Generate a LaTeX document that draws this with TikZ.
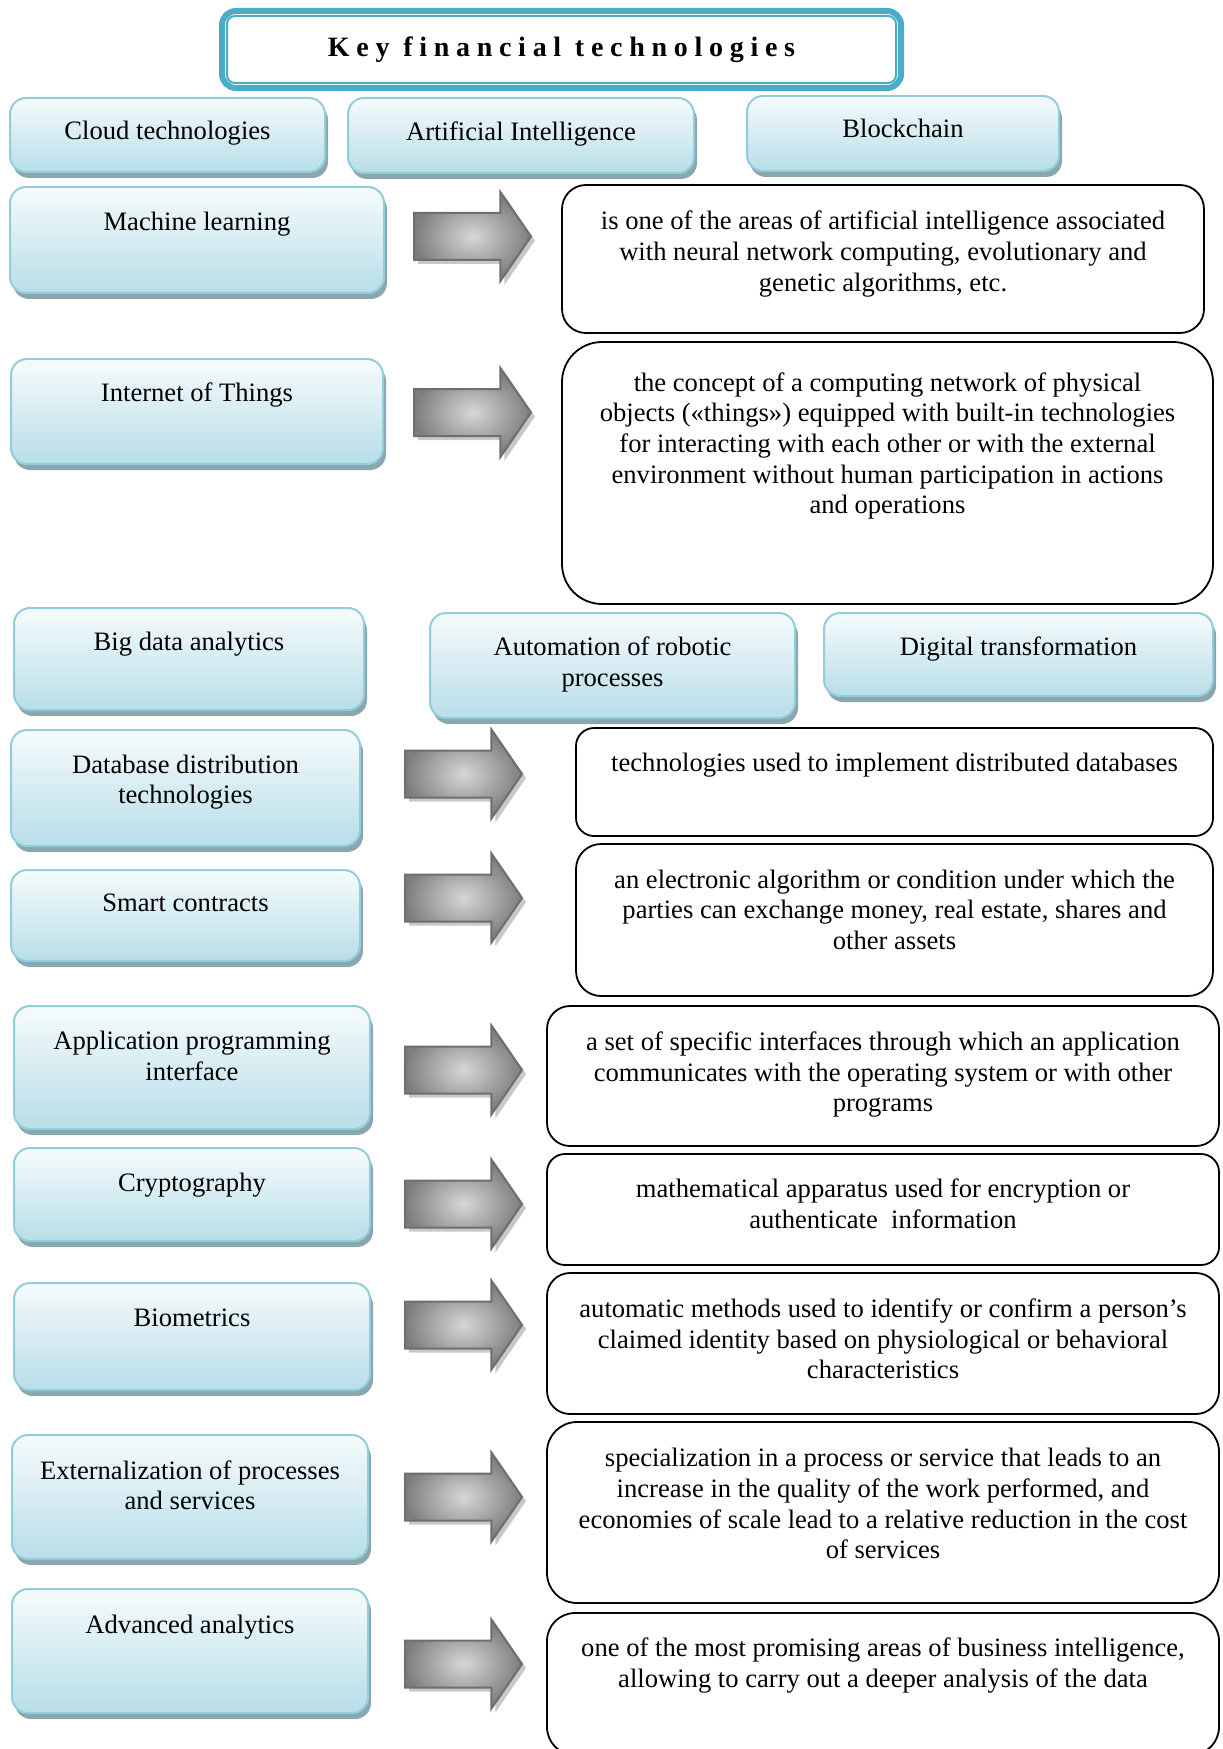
\documentclass[tikz,border=0pt]{standalone}
\usepackage{fontspec}
\setmainfont{Liberation Serif}
\usetikzlibrary{positioning, shapes.arrows, shadows}

\definecolor{fkteal}{RGB}{75,172,198}
\definecolor{boxtop}{RGB}{246,251,252}
\definecolor{boxbot}{RGB}{183,222,232}
\definecolor{boxline}{RGB}{146,205,220}
\definecolor{boxshadow}{RGB}{140,166,176}
\definecolor{arrowlight}{RGB}{215,215,215}
\definecolor{arrowdark}{RGB}{125,125,125}
\definecolor{arrowline}{RGB}{110,110,110}
\definecolor{arrowshadow}{RGB}{200,200,200}

\tikzset{
  titlebox/.style={draw=fkteal, line width=3pt, rounded corners=7pt, fill=white,
    minimum width=339.5pt, minimum height=38.5pt, inner sep=0pt},
  techbox/.style={draw=boxline, line width=1pt, rounded corners=8pt,
    top color=boxtop, bottom color=boxbot, inner sep=0pt,
    drop shadow={shadow xshift=1.5pt, shadow yshift=-3pt, fill=boxshadow, opacity=1}},
  descbox/.style={draw=black, line width=0.9pt, fill=white, inner sep=0pt, rounded corners=#1},
  bigarrow/.style={single arrow, draw=arrowline, line width=1pt, shading=radial,
    inner color=arrowlight, outer color=arrowdark, inner xsep=0pt, inner ysep=11.25pt,
    minimum height=58.5pt, single arrow head extend=10.5pt,
    single arrow tip angle=111, anchor=tail,
    drop shadow={shadow xshift=2pt, shadow yshift=-2pt, fill=arrowshadow, opacity=1}},
  txt/.style={align=center, inner sep=0pt, font=\fontsize{13.3}{15.3}\selectfont},
}

\begin{document}
\begin{tikzpicture}[x=0.5pt, y=-0.5pt]
  \useasboundingbox (0,0) rectangle (1222,1749);
  \clip (0,0) rectangle (1222,1749);

  % title
  \node[titlebox] (title) at (561.5,49.5)
    {\fontsize{14}{15.3}\selectfont\bfseries\addfontfeatures{LetterSpace=24}Key financial technologies};
  \draw[fkteal, line width=1pt, rounded corners=4pt]
    ([shift={(4pt,-4pt)}]title.north west) rectangle ([shift={(-4pt,4pt)}]title.south east);

  % top row
  \node[techbox, minimum width=157.5pt, minimum height=37pt] (cloud) at (167.5,135) {};
  \node[txt, below=12pt of cloud.north] (cloudt) {Cloud technologies};
  \node[techbox, minimum width=173pt, minimum height=37.5pt] (ai) at (521,135.5) {};
  \node[txt, below=12pt of ai.north] (ait) {Artificial Intelligence};
  \node[techbox, minimum width=156pt, minimum height=37.5pt] (chain) at (903,133.5) {};
  \node[txt, below=12pt of chain.north] (chaint) {Blockchain};

  % machine learning, IoT
  \node[techbox, minimum width=187pt, minimum height=53pt] (ml) at (197,240) {};
  \node[txt, below=12.7pt of ml.north] (mlt) {Machine learning};
  \node[bigarrow] (a1) at (413,236.5) {};
  \node[descbox=12pt, minimum width=321pt, minimum height=74pt] (d1) at (883,259) {};
  \node[txt, below=13.3pt of d1.north] (d1t) {is one of the areas of artificial intelligence associated\\
    with neural network computing, evolutionary and\\ genetic algorithms, etc.};

  \node[techbox, minimum width=186pt, minimum height=52.5pt] (iot) at (197,411.5) {};
  \node[txt, below=12.3pt of iot.north] (iott) {Internet of Things};
  \node[bigarrow] (a2) at (413,412.5) {};
  \node[descbox=20pt, minimum width=325.5pt, minimum height=131pt] (d2) at (887.5,473) {};
  \node[txt, below=15.5pt of d2.north] (d2t) {the concept of a computing network of physical\\
    objects («things») equipped with built-in technologies\\
    for interacting with each other or with the external\\
    environment without human participation in actions\\ and operations};

  % middle row
  \node[techbox, minimum width=175pt, minimum height=51pt] (bigdata) at (189,659) {};
  \node[txt, below=12.3pt of bigdata.north] (bigdatat) {Big data analytics};
  \node[techbox, minimum width=182.5pt, minimum height=52.5pt] (rpa) at (612.5,665.5) {};
  \node[txt, below=12.3pt of rpa.north] (rpat) {Automation of robotic\\ processes};
  \node[techbox, minimum width=194.5pt, minimum height=41.5pt] (digital) at (1018.5,654.5) {};
  \node[txt, below=12.3pt of digital.north] (digitalt) {Digital transformation};

  % lower rows
  \node[techbox, minimum width=174.5pt, minimum height=58pt] (dbd) at (185.5,788) {};
  \node[txt, below=12.7pt of dbd.north] (dbdt) {Database distribution\\ technologies};
  \node[bigarrow] (a3) at (404,774) {};
  \node[descbox=9pt, minimum width=318.5pt, minimum height=54pt] (d3) at (894.5,782) {};
  \node[txt, below=12.7pt of d3.north] (d3t) {technologies used to implement distributed databases};

  \node[techbox, minimum width=174.5pt, minimum height=45.5pt] (smart) at (185.5,915.5) {};
  \node[txt, below=12.3pt of smart.north] (smartt) {Smart contracts};
  \node[bigarrow] (a4) at (404,898) {};
  \node[descbox=12.5pt, minimum width=318.5pt, minimum height=76pt] (d4) at (894.5,920) {};
  \node[txt, below=13.1pt of d4.north] (d4t) {an electronic algorithm or condition under which the\\
    parties can exchange money, real estate, shares and\\ other assets};

  \node[techbox, minimum width=178pt, minimum height=61.5pt] (api) at (192,1067.5) {};
  \node[txt, below=13pt of api.north] (apit) {Application programming\\ interface};
  \node[bigarrow] (a5) at (404,1070) {};
  \node[descbox=11.5pt, minimum width=336pt, minimum height=70pt] (d5) at (883,1076) {};
  \node[txt, below=13.1pt of d5.north] (d5t) {a set of specific interfaces through which an application\\
    communicates with the operating system or with other\\ programs};

  \node[techbox, minimum width=178pt, minimum height=46.5pt] (crypto) at (192,1194.5) {};
  \node[txt, below=12.7pt of crypto.north] (cryptot) {Cryptography};
  \node[bigarrow] (a6) at (404,1204) {};
  \node[descbox=9pt, minimum width=336pt, minimum height=55.5pt] (d6) at (883,1209.5) {};
  \node[txt, below=12.7pt of d6.north] (d6t) {mathematical apparatus used for encryption or\\
    authenticate\ \ information};

  \node[techbox, minimum width=178pt, minimum height=53.5pt] (bio) at (192,1336.5) {};
  \node[txt, below=13pt of bio.north] (biot) {Biometrics};
  \node[bigarrow] (a7) at (404,1325) {};
  \node[descbox=11.5pt, minimum width=336pt, minimum height=70.5pt] (d7) at (883,1343.5) {};
  \node[txt, below=13.1pt of d7.north] (d7t) {automatic methods used to identify or confirm a person's\\
    claimed identity based on physiological or behavioral\\ characteristics};

  \node[techbox, minimum width=178pt, minimum height=62pt] (ext) at (190,1497) {};
  \node[txt, below=13pt of ext.north] (extt) {Externalization of processes\\ and services};
  \node[bigarrow] (a8) at (404,1497) {};
  \node[descbox=15pt, minimum width=336pt, minimum height=90.5pt] (d8) at (883,1512.5) {};
  \node[txt, below=13.5pt of d8.north] (d8t) {specialization in a process or service that leads to an\\
    increase in the quality of the work performed, and\\
    economies of scale lead to a relative reduction in the cost\\ of services};

  \node[techbox, minimum width=178pt, minimum height=62pt] (adv) at (190,1651) {};
  \node[txt, below=13.5pt of adv.north] (advt) {Advanced analytics};
  \node[bigarrow] (a9) at (404,1664) {};
  \node[descbox=14pt, minimum width=336pt, minimum height=71pt] (d9) at (883,1684) {};
  \node[txt, below=12.7pt of d9.north] (d9t) {one of the most promising areas of business intelligence,\\
    allowing to carry out a deeper analysis of the data};
\end{tikzpicture}
\end{document}
